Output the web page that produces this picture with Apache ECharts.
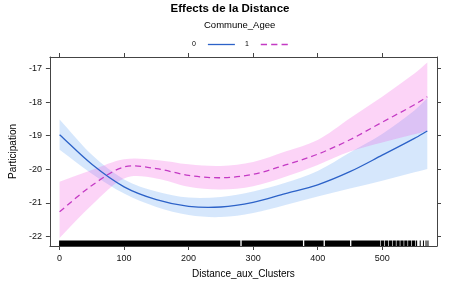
<!DOCTYPE html>
<html>
<head>
<meta charset="utf-8">
<script src="https://cdn.jsdelivr.net/npm/echarts@6/dist/echarts.min.js"></script>
<style>
  html, body { margin: 0; padding: 0; background: #fff; }
  #main { width: 460px; height: 288px; }
</style>
</head>
<body>
<div id="main"></div>
<script>
// distances ou les courbes sont lues
const distances = [0, 50, 100, 150, 200, 250, 300, 350, 400, 450, 500, 550, 570];

// Commune_Agee = 0
const fit0 = [-18.97, -19.85, -20.52, -20.9, -21.1, -21.12, -20.98, -20.72, -20.46, -20.07, -19.58, -19.08, -18.86];
const upper0 = [-18.52, -19.57, -20.3, -20.66, -20.84, -20.82, -20.66, -20.4, -20.05, -19.5, -18.95, -18.25, -17.89];
const lower0 = [-19.42, -20.13, -20.72, -21.12, -21.36, -21.42, -21.3, -21.06, -20.81, -20.57, -20.34, -20.09, -19.99];

// Commune_Agee = 1
const fit1 = [-21.26, -20.48, -19.93, -19.98, -20.18, -20.25, -20.15, -19.87, -19.55, -19.12, -18.6, -18.08, -17.84];
const upper1 = [-20.37, -20.02, -19.7, -19.72, -19.85, -19.9, -19.78, -19.47, -19.13, -18.48, -17.84, -17.15, -16.82];
const lower1 = [-22.04, -21.06, -20.27, -20.27, -20.52, -20.6, -20.5, -20.22, -19.87, -19.47, -19.2, -18.96, -18.85];

// rug des observations : [debut, fin]
const rug = [
  [0, 281], [283, 378], [380, 410], [412, 451], [453, 498],
  [499, 504], [505, 510], [511, 516], [517, 522], [523, 528], [529, 534],
  [535, 540], [541, 546], [547, 552], [553, 555],
  [559, 559], [564, 564], [568, 568], [571, 571]
];

const xTicks = [0, 100, 200, 300, 400, 500];
const yTicks = [-22, -21, -20, -19, -18, -17];

const font = 'Liberation Sans, Arial, sans-serif';
const BLUE = '#2c62c8', PINK = '#c43ac4';

// courbe lisse (spline cubique) passant par les points en pixels
function splinePath(pts, start) {
  const n = pts.length;
  const m = pts.map((p, k) => {
    const a = pts[Math.max(0, k - 1)], b = pts[Math.min(n - 1, k + 1)];
    return (b[1] - a[1]) / (b[0] - a[0]);
  });
  let d = (start ? 'M' : 'L') + pts[0][0] + ',' + pts[0][1];
  for (let k = 0; k < n - 1; k++) {
    const h = (pts[k + 1][0] - pts[k][0]) / 3;
    d += ' C' + (pts[k][0] + h) + ',' + (pts[k][1] + m[k] * h) + ' ' +
      (pts[k + 1][0] - h) + ',' + (pts[k + 1][1] - m[k + 1] * h) + ' ' +
      pts[k + 1][0] + ',' + pts[k + 1][1];
  }
  return d;
}

function bandSeries(up, lo, color) {
  return {
    type: 'custom', data: distances.map((d, i) => [d, lo[i], up[i]]),
    encode: { x: 0, y: [1, 2] }, silent: true, z: 2,
    renderItem: function (params, api) {
      if (params.dataIndex !== 0) return null;
      const top = distances.map((d, i) => api.coord([d, up[i]]));
      const bot = distances.map((d, i) => api.coord([d, lo[i]])).reverse();
      return {
        type: 'path',
        shape: { pathData: splinePath(top, true) + ' ' + splinePath(bot, false) + ' Z' },
        style: { fill: color, stroke: null }
      };
    }
  };
}

function fitSeries(name, ys, color, dash) {
  return {
    name: name, type: 'custom', data: distances.map((d, i) => [d, ys[i]]),
    encode: { x: 0, y: 1 }, silent: true, z: 5,
    itemStyle: { color: color },
    renderItem: function (params, api) {
      if (params.dataIndex !== 0) return null;
      const pts = distances.map((d, i) => api.coord([d, ys[i]]));
      return {
        type: 'path',
        shape: { pathData: splinePath(pts, true) },
        style: { fill: null, stroke: color, lineWidth: 1.3, lineDash: dash }
      };
    }
  };
}

const myChart = echarts.init(document.getElementById('main'));

const axisLine = { show: true, onZero: false, lineStyle: { color: '#444', width: 1 } };

const option = {
  animation: false,
  textStyle: { fontFamily: font },
  title: [
    {
      text: 'Effects de la Distance', left: 'center', top: 3, padding: 0,
      textStyle: { fontSize: 11.5, fontWeight: 'bold', color: '#000', fontFamily: font }
    },
    {
      text: 'Commune_Agee', left: 204, top: 20, padding: 0,
      textStyle: { fontSize: 9.5, fontWeight: 'normal', color: '#000', fontFamily: font }
    }
  ],
  legend: {
    data: [
      { name: '0', icon: 'path://M0,0H27V1.3H0Z' },
      { name: '1', icon: 'path://M0,0H6V1.3H0Z M10,0H16V1.3H10Z M20,0H26V1.3H20Z' }
    ],
    left: 192, top: 41, padding: 0,
    align: 'right', itemWidth: 27, itemHeight: 1.4, itemGap: 10,
    textStyle: { fontSize: 7, color: '#000', padding: [0, 7, 0, 0] }
  },
  grid: { left: 43, right: 23, top: 57, bottom: 42 },
  xAxis: [
    {
      type: 'value', min: -15, max: 585, position: 'bottom',
      name: 'Distance_aux_Clusters', nameLocation: 'middle', nameGap: 23,
      nameTextStyle: { fontSize: 10, color: '#000' },
      axisLine: axisLine,
      axisTick: { show: true, length: 4, customValues: xTicks, lineStyle: { color: '#444' } },
      axisLabel: { customValues: xTicks, fontSize: 9, color: '#111', margin: 8 },
      splitLine: { show: false }
    },
    {
      type: 'value', min: -15, max: 585, position: 'top',
      axisLine: axisLine,
      axisTick: { show: true, length: 4, customValues: xTicks, lineStyle: { color: '#444' } },
      axisLabel: { show: false },
      splitLine: { show: false }
    }
  ],
  yAxis: [
    {
      type: 'value', min: -22.28, max: -16.66, position: 'left',
      name: 'Participation', nameLocation: 'middle', nameGap: 30,
      nameTextStyle: { fontSize: 10, color: '#000' },
      axisLine: axisLine,
      axisTick: { show: true, length: 4, customValues: yTicks, lineStyle: { color: '#444' } },
      axisLabel: { customValues: yTicks, fontSize: 9, color: '#111', margin: 8 },
      splitLine: { show: false }
    },
    {
      type: 'value', min: -22.28, max: -16.66, position: 'right',
      axisLine: axisLine,
      axisTick: { show: true, length: 4, customValues: yTicks, lineStyle: { color: '#444' } },
      axisLabel: { show: false },
      splitLine: { show: false }
    }
  ],
  series: [
    // bandes de confiance
    bandSeries(upper0, lower0, 'rgba(30,120,240,0.18)'),
    bandSeries(upper1, lower1, 'rgba(240,60,220,0.22)'),
    // courbes
    fitSeries('0', fit0, BLUE, null),
    fitSeries('1', fit1, PINK, [6, 4]),
    // rug
    {
      type: 'custom', data: rug, encode: { x: [0, 1] }, silent: true, z: 6,
      renderItem: function (params, api) {
        const cs = params.coordSys;
        const x0 = api.coord([api.value(0), -22])[0];
        const x1 = api.coord([api.value(1), -22])[0];
        const h = 5.5;
        return {
          type: 'rect',
          shape: { x: x0 - 0.5, y: cs.y + cs.height - h, width: Math.max(1, x1 - x0), height: h },
          style: { fill: '#000' }
        };
      }
    }
  ]
};

option && myChart.setOption(option);
</script>
</body>
</html>
